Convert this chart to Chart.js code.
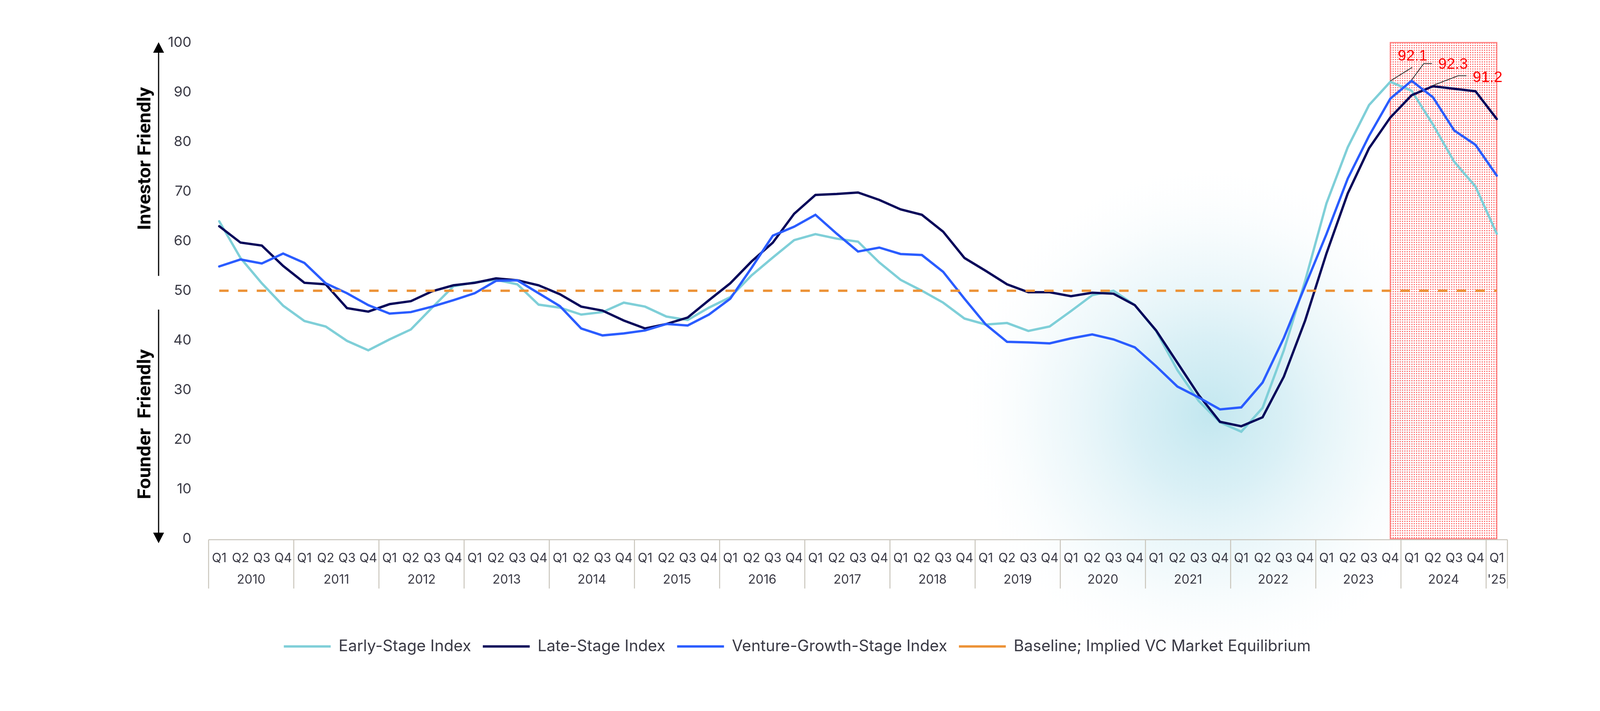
<!DOCTYPE html>
<html>
<head>
<meta charset="utf-8">
<title>VC Market Index</title>
<script src="https://cdn.jsdelivr.net/npm/chart.js@4.4.1/dist/chart.umd.min.js"></script>
<style>
  html, body { margin: 0; padding: 0; background: #fff; }
  canvas { display: block; }
</style>
</head>
<body>
<canvas id="vcIndex" width="4170" height="1820" style="width:4170px;height:1820px"></canvas>
<script>
// quarter ticks, 2010 Q1 .. 2025 Q1
const quarterLabels = [
  'Q1','Q2','Q3','Q4', 'Q1','Q2','Q3','Q4', 'Q1','Q2','Q3','Q4', 'Q1','Q2','Q3','Q4',
  'Q1','Q2','Q3','Q4', 'Q1','Q2','Q3','Q4', 'Q1','Q2','Q3','Q4', 'Q1','Q2','Q3','Q4',
  'Q1','Q2','Q3','Q4', 'Q1','Q2','Q3','Q4', 'Q1','Q2','Q3','Q4', 'Q1','Q2','Q3','Q4',
  'Q1','Q2','Q3','Q4', 'Q1','Q2','Q3','Q4', 'Q1','Q2','Q3','Q4',
  'Q1'
];
const yearLabels = ['2010','2011','2012','2013','2014','2015','2016','2017','2018','2019','2020','2021','2022','2023','2024',"'25"];
const quartersInYear = [4,4,4,4,4,4,4,4,4,4,4,4,4,4,4,1];

const earlyStage = [
  64.0, 56.6, 51.5, 47.0,  43.9, 42.8, 39.9, 38.0,  40.2, 42.2, 46.6, 50.9,  51.7, 52.2, 51.3, 47.2,
  46.6, 45.2, 45.7, 47.6,  46.8, 44.8, 44.1, 46.6,  48.7, 53.1, 56.7, 60.2,  61.4, 60.5, 59.9, 55.7,
  52.2, 50.0, 47.6, 44.4,  43.2, 43.5, 41.9, 42.8,  45.9, 49.1, 50.0, 47.1,  41.9, 34.0, 27.8, 23.5,
  21.6, 26.4, 38.0, 52.0,  67.6, 78.9, 87.4, 92.1,  90.3, 83.5, 76.0, 71.0,
  61.5
];
const lateStage = [
  63.0, 59.7, 59.1, 55.0,  51.6, 51.3, 46.5, 45.8,  47.3, 47.9, 49.9, 51.1,  51.6, 52.5, 52.1, 51.1,
  49.3, 46.8, 46.0, 44.0,  42.4, 43.3, 44.6, 48.1,  51.5, 55.9, 59.7, 65.5,  69.3, 69.5, 69.8, 68.3,
  66.4, 65.3, 61.9, 56.6,  54.0, 51.3, 49.7, 49.7,  48.9, 49.6, 49.4, 47.1,  42.0, 35.5, 29.0, 23.6,
  22.7, 24.5, 32.7, 44.0,  57.5, 69.6, 78.7, 84.9,  89.4, 91.2, 90.7, 90.2,
  84.6
];
const ventureGrowth = [
  54.9, 56.3, 55.5, 57.5,  55.6, 51.5, 49.5, 47.1,  45.4, 45.7, 46.8, 48.1,  49.5, 52.0, 52.1, 49.5,
  46.9, 42.4, 41.0, 41.4,  42.0, 43.3, 43.0, 45.2,  48.4, 54.6, 61.1, 62.9,  65.3, 61.5, 57.9, 58.7,
  57.4, 57.2, 53.8, 48.4,  43.2, 39.7, 39.6, 39.4,  40.4, 41.2, 40.2, 38.6,  34.8, 30.7, 28.5, 26.1,
  26.5, 31.5, 40.5, 51.0,  61.4, 72.6, 81.2, 88.7,  92.3, 89.0, 82.3, 79.4,
  73.2
];
const baseline = [
  50, 50, 50, 50,  50, 50, 50, 50,  50, 50, 50, 50,  50, 50, 50, 50,
  50, 50, 50, 50,  50, 50, 50, 50,  50, 50, 50, 50,  50, 50, 50, 50,
  50, 50, 50, 50,  50, 50, 50, 50,  50, 50, 50, 50,  50, 50, 50, 50,
  50, 50, 50, 50,  50, 50, 50, 50,  50, 50, 50, 50,
  50
];

// peak call-outs: text, dataset, point index
const peakTexts = ['92.1', '92.3', '91.2'];
const peakSeries = [0, 2, 1];
const peakIndex = [55, 56, 57];
// highlighted window (point indices), 2023 Q4 .. 2025 Q1
const highlightFrom = 55;
const highlightTo = 60;

const INK = '#3a3a45';
const FONT = 'Inter, "Noto Sans", sans-serif';

// soft teal glow behind the 2021/22 trough
const glowPlugin = {
  id: 'glow',
  beforeDraw(chart) {
    const { ctx, scales: { x, y } } = chart;
    ctx.save();
    ctx.fillStyle = '#fff';
    ctx.fillRect(0, 0, chart.width, chart.height);
    const cx = x.getPixelForValue(46.5);
    const cy = y.getPixelForValue(25);
    const r = 660;
    const g = ctx.createRadialGradient(cx, cy, 0, cx, cy, r);
    g.addColorStop(0, 'rgba(184,227,237,0.85)');
    g.addColorStop(0.3, 'rgba(198,232,241,0.66)');
    g.addColorStop(0.65, 'rgba(224,242,247,0.38)');
    g.addColorStop(1, 'rgba(255,255,255,0)');
    ctx.fillStyle = g;
    ctx.fillRect(cx - r, cy - r, r * 2, r * 2);
    ctx.restore();
  }
};

// dotted red box over the latest quarters
const highlightPlugin = {
  id: 'highlight',
  beforeDatasetsDraw(chart) {
    const { ctx, scales: { x, y } } = chart;
    const left = x.getPixelForValue(highlightFrom);
    const right = x.getPixelForValue(highlightTo);
    const top = y.getPixelForValue(100);
    const bottom = y.getPixelForValue(0);
    const tile = document.createElement('canvas');
    tile.width = 6; tile.height = 6;
    const tc = tile.getContext('2d');
    tc.fillStyle = '#ff7070';
    tc.fillRect(1, 1, 3, 3);
    ctx.save();
    ctx.fillStyle = ctx.createPattern(tile, 'repeat');
    ctx.fillRect(left, top, right - left, bottom - top);
    ctx.strokeStyle = '#ff8080';
    ctx.lineWidth = 3;
    ctx.strokeRect(left, top, right - left, bottom - top);
    ctx.restore();
  }
};

// value call-outs with leader lines
const calloutPlugin = {
  id: 'callouts',
  afterDatasetsDraw(chart) {
    const { ctx } = chart;
    // offsets from the point: elbow, end of leader, text origin
    const shapes = [
      { elbow: [56, -37], end: [56, -37], text: [19, -54] },
      { elbow: [31, -44], end: [52, -44], text: [68, -31] },
      { elbow: [65, -27], end: [86, -27], text: [102, -11] }
    ];
    ctx.save();
    peakTexts.forEach((txt, i) => {
      const pt = chart.getDatasetMeta(peakSeries[i]).data[peakIndex[i]];
      const s = shapes[i];
      ctx.strokeStyle = '#333';
      ctx.lineWidth = 2;
      ctx.beginPath();
      ctx.moveTo(pt.x, pt.y - 2);
      ctx.lineTo(pt.x + s.elbow[0], pt.y + s.elbow[1]);
      ctx.lineTo(pt.x + s.end[0], pt.y + s.end[1]);
      ctx.stroke();
      ctx.fillStyle = '#ff0000';
      ctx.font = '39px "Liberation Sans", Arial, sans-serif';
      ctx.textAlign = 'left';
      ctx.textBaseline = 'alphabetic';
      ctx.fillText(txt, pt.x + s.text[0], pt.y + s.text[1]);
    });
    ctx.restore();
  }
};

// quarter/year table under the plot
const yearTablePlugin = {
  id: 'yearTable',
  afterDraw(chart) {
    const { ctx, chartArea, scales: { x } } = chart;
    const half = (x.getPixelForValue(1) - x.getPixelForValue(0)) / 2;
    const top = chartArea.bottom + 2;
    const bottom = top + 125;
    ctx.save();
    ctx.strokeStyle = '#c9c5bb';
    ctx.lineWidth = 2.5;
    ctx.beginPath();
    ctx.moveTo(chartArea.left, top);
    ctx.lineTo(chartArea.right, top);
    ctx.stroke();
    ctx.font = '32px ' + FONT;
    ctx.fillStyle = INK;
    ctx.textAlign = 'center';
    ctx.textBaseline = 'middle';
    let start = 0;
    yearLabels.forEach((yr, i) => {
      const end = start + quartersInYear[i] - 1;
      const l = x.getPixelForValue(start) - half;
      const r = x.getPixelForValue(end) + half;
      ctx.beginPath();
      ctx.moveTo(l, top);
      ctx.lineTo(l, bottom);
      ctx.stroke();
      if (i === yearLabels.length - 1) {
        ctx.beginPath();
        ctx.moveTo(r, top);
        ctx.lineTo(r, bottom);
        ctx.stroke();
      }
      ctx.fillText(yr, (l + r) / 2, chartArea.bottom + 105);
      start = end + 1;
    });
    ctx.restore();
  }
};

function sideText(ctx, text, cx, cy, length) {
  ctx.save();
  ctx.translate(cx, cy);
  ctx.rotate(-Math.PI / 2);
  ctx.font = 'bold 46px "Liberation Sans Narrow", Roboto, sans-serif';
  const w = ctx.measureText(text).width;
  ctx.scale(length / w, 1);
  ctx.textAlign = 'center';
  ctx.textBaseline = 'alphabetic';
  ctx.fillStyle = '#000';
  ctx.fillText(text, 0, 0);
  ctx.restore();
}

function arrowHead(ctx, x, tipY, dir) {
  ctx.beginPath();
  ctx.moveTo(x, tipY);
  ctx.lineTo(x - 14, tipY - dir * 27);
  ctx.lineTo(x + 14, tipY - dir * 27);
  ctx.closePath();
  ctx.fill();
}

// investor / founder arrows at the left
const sidePlugin = {
  id: 'sideArrows',
  afterDraw(chart) {
    const { ctx, chartArea, scales: { y } } = chart;
    const ax = chartArea.left - 128;
    ctx.save();
    ctx.strokeStyle = '#000';
    ctx.fillStyle = '#000';
    ctx.lineWidth = 3;
    const upTip = y.getPixelForValue(100) - 1;
    const downTip = y.getPixelForValue(0) + 11;
    ctx.beginPath();
    ctx.moveTo(ax, y.getPixelForValue(53));
    ctx.lineTo(ax, upTip + 20);
    ctx.moveTo(ax, y.getPixelForValue(46.2));
    ctx.lineTo(ax, downTip - 20);
    ctx.stroke();
    arrowHead(ctx, ax, upTip, -1);
    arrowHead(ctx, ax, downTip, 1);
    sideText(ctx, 'Investor Friendly', chartArea.left - 149, 406, 366);
    sideText(ctx, 'Founder  Friendly', chartArea.left - 149, 1086, 384);
    ctx.restore();
  }
};

// nudge the legend so it sits where the original one does
const legendShift = {
  id: 'legendShift',
  afterLayout(chart) {
    const lg = chart.legend;
    const dx = 2041 - (lg.left + lg.right) / 2;
    lg.left += dx;
    lg.right += dx;
  }
};

new Chart(document.getElementById('vcIndex'), {
  type: 'line',
  data: {
    labels: quarterLabels,
    datasets: [
      {
        label: 'Early-Stage Index',
        data: earlyStage,
        borderColor: '#7fcfd8',
        backgroundColor: '#7fcfd8',
        borderWidth: 6,
        borderCapStyle: 'round',
        pointRadius: 0,
        tension: 0,
        order: 3
      },
      {
        label: 'Late-Stage Index',
        data: lateStage,
        borderColor: '#07075a',
        backgroundColor: '#07075a',
        borderWidth: 6,
        borderCapStyle: 'round',
        pointRadius: 0,
        tension: 0,
        order: 2
      },
      {
        label: 'Venture-Growth-Stage Index',
        data: ventureGrowth,
        borderColor: '#2a5cff',
        backgroundColor: '#2a5cff',
        borderWidth: 6,
        borderCapStyle: 'round',
        pointRadius: 0,
        tension: 0,
        order: 1
      },
      {
        label: 'Baseline; Implied VC Market Equilibrium',
        data: baseline,
        borderColor: '#ec9236',
        backgroundColor: '#ec9236',
        borderWidth: 6,
        borderDash: [24, 24],
        pointRadius: 0,
        order: 0
      }
    ]
  },
  options: {
    responsive: false,
    devicePixelRatio: 1,
    animation: false,
    layout: { padding: { left: 0, right: 311, top: 109, bottom: 135 } },
    scales: {
      x: {
        type: 'category',
        offset: true,
        grid: { display: false },
        border: { display: false },
        ticks: {
          autoSkip: false,
          maxRotation: 0,
          padding: 23,
          color: INK,
          font: { family: FONT, size: 32 }
        },
        afterFit(scale) { scale.height = 225; }
      },
      y: {
        min: 0,
        max: 100,
        grid: { display: false },
        border: { display: false },
        ticks: {
          stepSize: 10,
          padding: 36,
          color: INK,
          font: { family: FONT, size: 36 }
        },
        afterFit(scale) { scale.width = 534; }
      }
    },
    plugins: {
      tooltip: { enabled: false },
      legend: {
        position: 'bottom',
        labels: {
          usePointStyle: true,
          pointStyle: 'line',
          pointStyleWidth: 120,
          padding: 30,
          color: INK,
          font: { family: FONT, size: 40.5 },
          sort: (a, b) => a.datasetIndex - b.datasetIndex
        }
      }
    }
  },
  plugins: [glowPlugin, highlightPlugin, calloutPlugin, yearTablePlugin, sidePlugin, legendShift]
});
</script>
</body>
</html>
